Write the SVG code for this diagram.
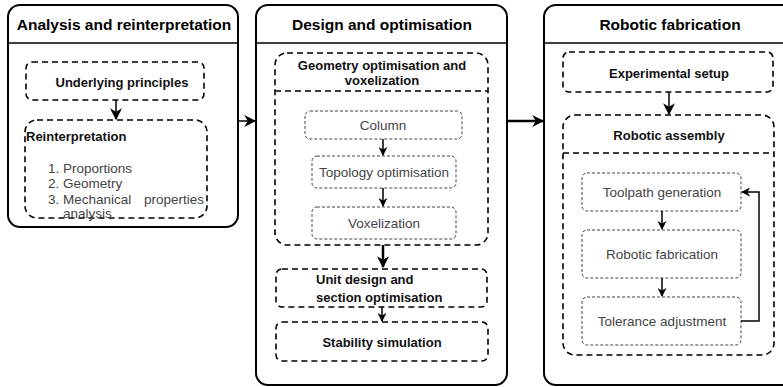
<svg xmlns="http://www.w3.org/2000/svg" width="783" height="387" viewBox="0 0 783 387">
<style>
.panel{fill:#fff;stroke:#000;stroke-width:2}
.hdr{stroke:#000;stroke-width:1.5}
.title{font-family:"Liberation Sans",Arial,sans-serif;font-size:15.5px;font-weight:bold;fill:#000;text-anchor:middle}
.box{fill:none;stroke:#000;stroke-width:1.6;stroke-dasharray:6 4}
.inner{fill:none;stroke:#444;stroke-width:1;stroke-dasharray:3 2}
.lbl{font-family:"Liberation Sans",Arial,sans-serif;font-size:13px;font-weight:bold;fill:#111;text-anchor:middle}
.txt{font-family:"Liberation Sans",Arial,sans-serif;font-size:13.5px;fill:#444;text-anchor:middle}
.lst{font-family:"Liberation Sans",Arial,sans-serif;font-size:13.5px;fill:#444}
.c{fill:none;stroke:#000;stroke-width:1.5}
.ct{fill:none;stroke:#000;stroke-width:2.5}
</style>
<defs>
<marker id="ah" viewBox="0 0 10 10" refX="9" refY="5" markerWidth="9" markerHeight="9" orient="auto" markerUnits="userSpaceOnUse">
<path d="M0,0 L10,5 L0,10 L3,5 z" fill="#000"/>
</marker>
<marker id="ahl" viewBox="0 0 10 10" refX="9" refY="5" markerWidth="12" markerHeight="12" orient="auto" markerUnits="userSpaceOnUse">
<path d="M0,0 L10,5 L0,10 L3,5 z" fill="#000"/>
</marker>
</defs>

<g id="panel-analysis">
<rect class="panel" x="8" y="5" width="230" height="222" rx="12"/>
<line class="hdr" x1="8" y1="43" x2="238" y2="43"/>
<text class="title" x="124" y="30">Analysis and reinterpretation</text>
</g>
<g id="panel-design">
<rect class="panel" x="256" y="5" width="251" height="380" rx="12"/>
<line class="hdr" x1="256" y1="43" x2="507" y2="43"/>
<text class="title" x="382" y="30">Design and optimisation</text>
</g>
<g id="panel-robotic">
<rect class="panel" x="544" y="5" width="250" height="380" rx="12"/>
<line class="hdr" x1="544" y1="43" x2="794" y2="43"/>
<text class="title" x="670" y="30">Robotic fabrication</text>
</g>

<g id="underlying">
<rect class="box" x="26" y="62" width="178" height="38" rx="6"/>
<text class="lbl" x="122" y="87">Underlying principles</text>
</g>
<g id="reinterpretation">
<rect class="box" x="25" y="120" width="182" height="98" rx="12"/>
<text class="lbl" x="26" y="141" style="text-anchor:start">Reinterpretation</text>
<text class="lst"><tspan x="48" y="173">1.</tspan><tspan x="63" y="173">Proportions</tspan></text>
<text class="lst"><tspan x="48" y="188">2.</tspan><tspan x="63" y="188">Geometry</tspan></text>
<text class="lst"><tspan x="48" y="204">3.</tspan><tspan x="63" y="204">Mechanical</tspan><tspan x="204" y="204" style="text-anchor:end">properties</tspan></text>
<text class="lst" x="63" y="218">analysis</text>
</g>

<g id="geometry">
<rect class="box" x="275" y="53" width="213" height="192" rx="12"/>
<line class="box" x1="275" y1="91" x2="488" y2="91"/>
<text class="lbl" x="382" y="70">Geometry optimisation and</text>
<text class="lbl" x="382" y="85">voxelization</text>
</g>
<g id="column">
<rect class="inner" x="305" y="111" width="157" height="28" rx="5"/>
<text class="txt" x="383" y="130">Column</text>
</g>
<g id="topology">
<rect class="inner" x="312" y="156" width="144" height="32" rx="5"/>
<text class="txt" x="384" y="177">Topology optimisation</text>
</g>
<g id="voxelization">
<rect class="inner" x="312" y="207" width="144" height="32" rx="5"/>
<text class="txt" x="384" y="228">Voxelization</text>
</g>
<g id="unit-design">
<rect class="box" x="276" y="269" width="211" height="38" rx="6"/>
<text class="lbl" x="316" y="284" style="text-anchor:start">Unit design and</text>
<text class="lbl" x="316" y="302" style="text-anchor:start">section optimisation</text>
</g>
<g id="stability">
<rect class="box" x="276" y="322" width="212" height="39" rx="6"/>
<text class="lbl" x="382" y="347">Stability simulation</text>
</g>

<g id="experimental">
<rect class="box" x="563" y="52" width="210" height="40" rx="6"/>
<text class="lbl" x="669" y="78">Experimental setup</text>
</g>
<g id="assembly">
<rect class="box" x="563" y="115" width="211" height="240" rx="12"/>
<line class="box" x1="563" y1="153" x2="774" y2="153"/>
<text class="lbl" x="669" y="140">Robotic assembly</text>
</g>
<g id="toolpath">
<rect class="inner" x="582" y="173" width="159" height="38" rx="5"/>
<text class="txt" x="662" y="197">Toolpath generation</text>
</g>
<g id="robfab">
<rect class="inner" x="582" y="230" width="159" height="48" rx="5"/>
<text class="txt" x="662" y="259">Robotic fabrication</text>
</g>
<g id="tolerance">
<rect class="inner" x="582" y="297" width="159" height="48" rx="5"/>
<text class="txt" x="662" y="326">Tolerance adjustment</text>
</g>

<g id="connectors">
<line class="c" x1="238" y1="121" x2="255" y2="121" marker-end="url(#ahl)"/>
<line class="ct" x1="507" y1="121" x2="543" y2="121" marker-end="url(#ahl)"/>
<line class="c" x1="116" y1="100" x2="116" y2="119" marker-end="url(#ahl)"/>
<line class="c" x1="383" y1="139" x2="383" y2="155" marker-end="url(#ah)"/>
<line class="c" x1="383" y1="188" x2="383" y2="206" marker-end="url(#ah)"/>
<line class="ct" x1="383" y1="245" x2="383" y2="267" marker-end="url(#ahl)"/>
<line class="c" x1="382" y1="307" x2="382" y2="321" marker-end="url(#ah)"/>
<line class="c" x1="669" y1="92" x2="669" y2="114" marker-end="url(#ahl)"/>
<line class="c" x1="662" y1="211" x2="662" y2="229" marker-end="url(#ah)"/>
<line class="c" x1="662" y1="278" x2="662" y2="296" marker-end="url(#ah)"/>
<polyline class="c" points="741,321 759,321 759,192 742,192" marker-end="url(#ah)"/>
</g>
</svg>
